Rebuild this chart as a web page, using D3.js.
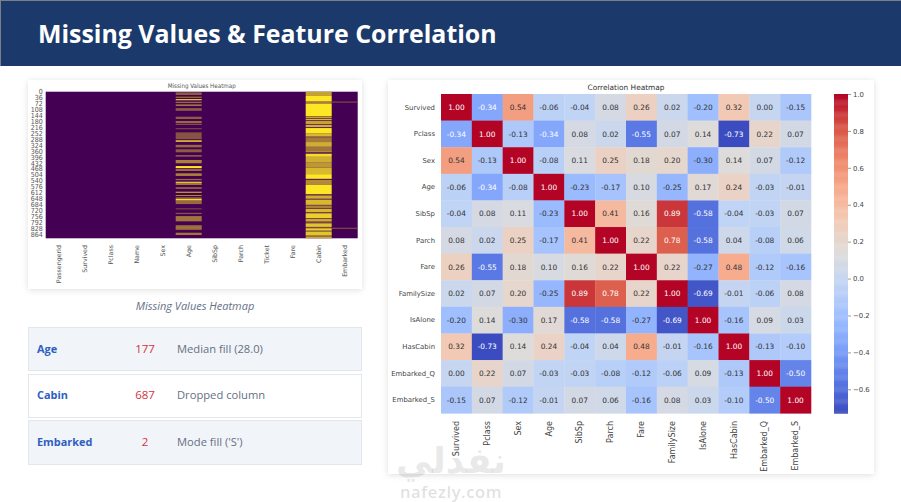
<!DOCTYPE html>
<html><head><meta charset="utf-8">
<script src="https://d3js.org/d3.v7.min.js"></script>
<style>html,body{margin:0;padding:0;background:#fff}svg{display:block}</style>
</head><body><svg id="c" width="901" height="502"></svg>
<script>
const titleText = "Missing Values & Feature Correlation";
const corrLabels = ["Survived","Pclass","Sex","Age","SibSp","Parch","Fare","FamilySize","IsAlone","HasCabin","Embarked_Q","Embarked_S"];
const corrValues = [
[1.00,-0.34,0.54,-0.06,-0.04,0.08,0.26,0.02,-0.20,0.32,0.00,-0.15],
[-0.34,1.00,-0.13,-0.34,0.08,0.02,-0.55,0.07,0.14,-0.73,0.22,0.07],
[0.54,-0.13,1.00,-0.08,0.11,0.25,0.18,0.20,-0.30,0.14,0.07,-0.12],
[-0.06,-0.34,-0.08,1.00,-0.23,-0.17,0.10,-0.25,0.17,0.24,-0.03,-0.01],
[-0.04,0.08,0.11,-0.23,1.00,0.41,0.16,0.89,-0.58,-0.04,-0.03,0.07],
[0.08,0.02,0.25,-0.17,0.41,1.00,0.22,0.78,-0.58,0.04,-0.08,0.06],
[0.26,-0.55,0.18,0.10,0.16,0.22,1.00,0.22,-0.27,0.48,-0.12,-0.16],
[0.02,0.07,0.20,-0.25,0.89,0.78,0.22,1.00,-0.69,-0.01,-0.06,0.08],
[-0.20,0.14,-0.30,0.17,-0.58,-0.58,-0.27,-0.69,1.00,-0.16,0.09,0.03],
[0.32,-0.73,0.14,0.24,-0.04,0.04,0.48,-0.01,-0.16,1.00,-0.13,-0.10],
[0.00,0.22,0.07,-0.03,-0.03,-0.08,-0.12,-0.06,0.09,-0.13,1.00,-0.50],
[-0.15,0.07,-0.12,-0.01,0.07,0.06,-0.16,0.08,0.03,-0.10,-0.50,1.00]];
const colorbarTicks = [1,0.8,0.6,0.4,0.2,0,-0.2,-0.4,-0.6];
const coolwarmStops = ["#3b4cc0","#5977e3","#7b9ff9","#9ebeff","#c0d4f5","#dddcdc","#f2cbb7","#f7ac8e","#ee8468","#d65244","#b40426"];

const missingColumns = ["PassengerId","Survived","Pclass","Name","Sex","Age","SibSp","Parch","Ticket","Fare","Cabin","Embarked"];
const rowTicks = [0,36,72,108,144,180,216,252,288,324,360,396,432,468,504,540,576,612,648,684,720,756,792,828,864];
// [first row, last row, share of missing rows within the band]
const ageBands = [[4,20,.4],[30,38,.45],[45,52,.95],[61,69,.45],[77,87,.5],[100,116,.4],[152,166,.4],[178,192,.45],[198,202,.5],[222,228,.35],[247,289,.35],[295,305,.85],[323,338,.45],[350,368,.4],[385,395,.4],[415,435,.55],[452,464,1],[468,482,.45],[496,512,.55],[530,538,.45],[547,555,.85],[555,567,.5],[581,590,.5],[608,614,.85],[628,634,.6],[642,652,.45],[652,662,.95],[662,683,.45],[709,715,.35],[736,744,.35],[756,788,.5],[811,826,.45],[826,832,.85],[832,841,.4],[857,871,.5]];
const cabinBands = [[0,26,.7],[26,59,1],[59,67,.75],[71,148,1],[150,160,.7],[164,172,.8],[176,197,.7],[201,217,.75],[217,221,.1],[221,252,1],[252,272,.8],[272,278,.6],[278,306,.52],[306,335,.75],[335,363,.5],[363,368,.9],[369,375,.2],[377,396,.95],[396,428,.75],[428,461,.65],[461,501,.8],[501,530,1],[530,536,.1],[536,566,.6],[566,623,1],[623,631,.3],[631,651,.75],[651,657,.3],[657,688,.8],[688,692,.3],[692,709,.55],[709,713,.3],[713,733,.8],[733,739,.3],[739,770,.9],[770,774,.3],[774,790,.75],[790,800,.3],[800,822,.85],[822,830,.3],[830,845,.9],[845,850,.4],[850,875,.85],[875,880,.5],[880,891,.72]];
const embarkedBands = [[60,66,.38],[827,833,.38]];
const missingSeries = [["Age",ageBands],["Cabin",cabinBands],["Embarked",embarkedBands]];

const tableFeatures = ["Age","Cabin","Embarked"];
const tableCounts = [177,687,2];
const tableActions = ["Median fill (28.0)","Dropped column","Mode fill ('S')"];

const svg = d3.select("#c");
const UI = "'Open Sans','Noto Sans',sans-serif";
const MPL = "'DejaVu Sans',sans-serif";
const MPLC = "'DejaVu Sans Condensed','DejaVu Sans',sans-serif";

// header
svg.append("rect").attr("width",901).attr("height",502).attr("fill","#fff");
svg.append("rect").attr("width",901).attr("height",66).attr("fill","#7b7f86");
svg.append("rect").attr("x",1).attr("y",1).attr("width",900).attr("height",65).attr("fill","#1b3a6b");
svg.append("text").attr("x",38).attr("y",42.5).attr("fill","#fff").attr("font-family",UI)
  .attr("font-weight",700).attr("font-size",24.9).text(titleText);

// cards
const card=(x,y,w,h)=>svg.append("rect").attr("x",x).attr("y",y).attr("width",w).attr("height",h)
  .attr("fill","#fff").style("filter","drop-shadow(0 1px 3px rgba(0,0,0,.13))");
card(28,80,334,209);
card(388,80,486,394);

// missing heatmap
const mx = d3.scaleBand().domain(missingColumns).range([45.7,357.7]);
const my = d3.scaleLinear().domain([0,891]).range([91.7,238.3]);
const viridis = d3.interpolateRgb("#440154","#fde725");
const gm = svg.append("g");
gm.append("rect").attr("x",mx.range()[0]).attr("y",my(0)).attr("width",mx.range()[1]-mx.range()[0])
  .attr("height",my(891)-my(0)).attr("fill",viridis(0));
missingSeries.forEach(([col,bands])=>{
  gm.selectAll(null).data(bands).join("rect")
    .attr("x",mx(col)).attr("width",mx.bandwidth())
    .attr("y",d=>my(d[0])).attr("height",d=>my(d[1])-my(d[0]))
    .attr("fill",d=>viridis(d[2]));
});
const mxAxis = svg.append("g").call(d3.axisBottom(mx).tickSize(0));
mxAxis.attr("transform",null);
mxAxis.select(".domain").remove();
mxAxis.selectAll(".tick").attr("transform",null);
mxAxis.selectAll("text").attr("font-family",MPL).attr("font-size",6.3).attr("fill","#555")
  .attr("text-anchor","end").attr("dy",".34em")
  .attr("x",d=>mx(d)+mx.bandwidth()/2).attr("y",245)
  .attr("transform",d=>`rotate(-90 ${mx(d)+mx.bandwidth()/2} 245)`);
const myAxis = svg.append("g").attr("transform","translate(45.7,0)")
  .call(d3.axisLeft(my).tickValues(rowTicks).tickFormat(d3.format("d")).tickSize(0).tickPadding(3));
myAxis.select(".domain").remove();
myAxis.selectAll("text").attr("font-family",MPLC).attr("font-size",7).attr("fill","#555");
svg.append("text").attr("x",201.7).attr("y",88).attr("text-anchor","middle").attr("font-family",MPLC)
  .attr("font-size",6.2).attr("fill","#555").text("Missing Values Heatmap");
svg.append("text").attr("x",195).attr("y",310).attr("text-anchor","middle").attr("font-family",UI)
  .attr("font-style","italic").attr("font-size",11).attr("fill","#667085").text("Missing Values Heatmap");

// table
const rowTops=[327.5,374.5,420.5], rowHeights=[43,43,44], rowFills=["#f1f4f8","#ffffff","#f1f4f8"], rowBase=[353,399,446];
const tb = svg.append("g").selectAll("g").data(tableFeatures).join("g");
tb.append("rect").attr("x",28.5).attr("y",(d,i)=>rowTops[i]).attr("width",333).attr("height",(d,i)=>rowHeights[i])
  .attr("fill",(d,i)=>rowFills[i]).attr("stroke","#e3e7ec");
tb.append("text").attr("x",37).attr("y",(d,i)=>rowBase[i]).attr("font-family",UI).attr("font-weight",700)
  .attr("font-size",10.9).attr("fill","#2f5fc0").text(d=>d);
tb.append("text").attr("x",145).attr("y",(d,i)=>rowBase[i]).attr("text-anchor","middle").attr("font-family",UI)
  .attr("font-size",11.5).attr("fill","#d0343c").text((d,i)=>tableCounts[i]);
tb.append("text").attr("x",177).attr("y",(d,i)=>rowBase[i]).attr("font-family",UI)
  .attr("font-size",11.2).attr("fill","#667085").text((d,i)=>tableActions[i]);

// correlation heatmap
const cx = d3.scaleBand().domain(corrLabels).range([441,811]);
const cy = d3.scaleBand().domain(corrLabels).range([94,413.3]);
const vmin=-0.73, vmax=1;
const color = d3.scaleLinear().domain(coolwarmStops.map((_,i)=>vmin+(vmax-vmin)*i/10)).range(coolwarmStops);
const cells = corrValues.flatMap((r,i)=>r.map((v,j)=>({r:corrLabels[i],c:corrLabels[j],v})));
svg.append("g").selectAll("rect").data(cells).join("rect")
  .attr("x",d=>cx(d.c)).attr("y",d=>cy(d.r)).attr("width",cx.bandwidth()+.3).attr("height",cy.bandwidth()+.3)
  .attr("fill",d=>color(d.v));
svg.append("g").selectAll("text").data(cells).join("text")
  .attr("x",d=>cx(d.c)+cx.bandwidth()/2).attr("y",d=>cy(d.r)+cy.bandwidth()/2).attr("dy",".36em")
  .attr("text-anchor","middle").attr("font-family",MPL).attr("font-size",7.4)
  .attr("fill",d=>(d.v<=-0.33||d.v>=0.75)?"#fff":"#333").text(d=>d.v.toFixed(2));
const cyAxis = svg.append("g").attr("transform","translate(441,0)").call(d3.axisLeft(cy).tickSize(0).tickPadding(6));
cyAxis.select(".domain").remove();
cyAxis.selectAll("text").attr("font-family",MPL).attr("font-size",6.9).attr("fill","#444");
const cxAxis = svg.append("g").call(d3.axisBottom(cx).tickSize(0));
cxAxis.select(".domain").remove();
cxAxis.selectAll(".tick").attr("transform",null);
cxAxis.selectAll("text").attr("font-family",MPL).attr("font-size",8).attr("fill","#444")
  .attr("text-anchor","end").attr("dy",".34em").attr("x",d=>cx(d)+cx.bandwidth()/2).attr("y",421)
  .attr("transform",d=>`rotate(-90 ${cx(d)+cx.bandwidth()/2} 421)`);
svg.append("text").attr("x",626).attr("y",90).attr("text-anchor","middle").attr("font-family",MPL)
  .attr("font-size",7.4).attr("fill","#333").text("Correlation Heatmap");

// colorbar
const cb = d3.scaleLinear().domain([vmin,vmax]).range([413.3,94]);
svg.append("g").selectAll("rect").data(d3.range(vmin,vmax,0.005)).join("rect")
  .attr("x",834).attr("width",14).attr("y",d=>cb(d+0.005)).attr("height",d=>cb(d)-cb(d+0.005)+.4).attr("fill",d=>color(d));
const cbAxis = svg.append("g").attr("transform","translate(848,0)")
  .call(d3.axisRight(cb).tickValues(colorbarTicks).tickFormat(d3.format(".1f")).tickSize(3).tickPadding(2));
cbAxis.select(".domain").remove();
cbAxis.selectAll("line").attr("stroke","#555").attr("stroke-width",.6);
cbAxis.selectAll("text").attr("font-family",MPL).attr("font-size",6.9).attr("fill","#444");

// watermark
svg.append("text").attr("x",451).attr("y",473).attr("text-anchor","middle").attr("font-family",MPL).attr("font-weight",700)
  .attr("font-size",36).attr("fill","#8a8a8a").attr("fill-opacity",.2).text("نفذلي");
svg.append("text").attr("x",451).attr("y",498).attr("text-anchor","middle").attr("font-family",UI).attr("font-weight",600)
  .attr("font-size",16.5).attr("letter-spacing",.6).attr("fill","#8a8a8a").attr("fill-opacity",.26).text("nafezly.com");
</script></body></html>
